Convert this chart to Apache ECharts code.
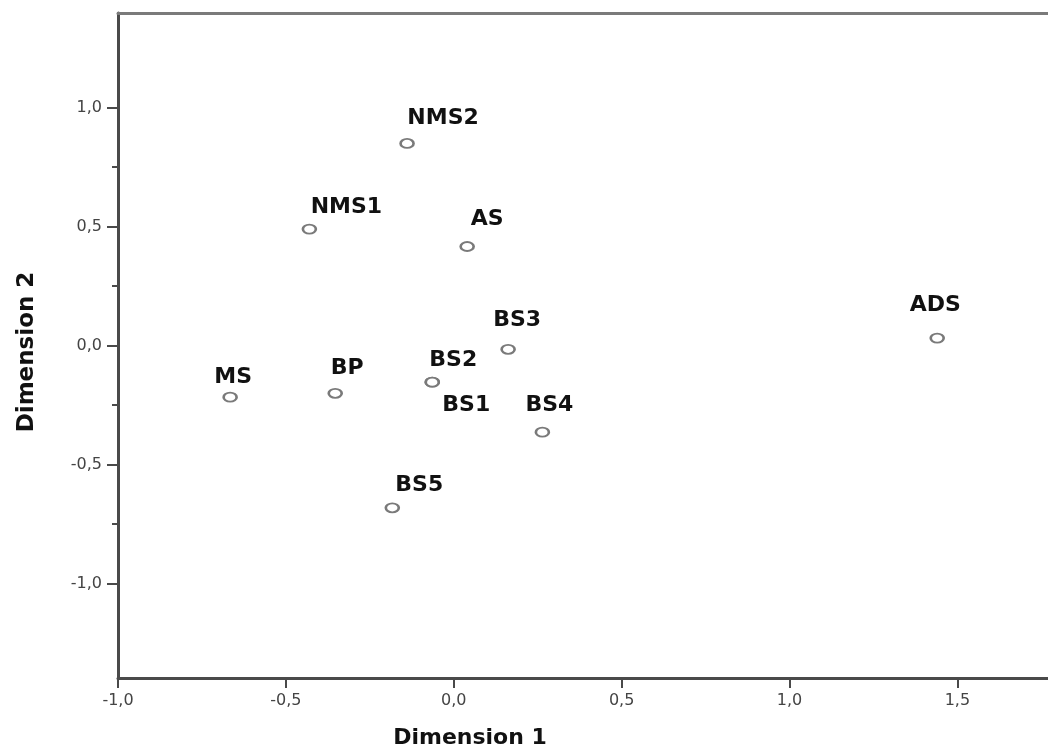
<!DOCTYPE html>
<html>
<head>
<meta charset="utf-8">
<script src="https://cdn.jsdelivr.net/npm/echarts@6/dist/echarts.min.js"></script>
<style>
html,body{margin:0;padding:0;background:#fff;}
#chart{width:1048px;height:749px;}
</style>
</head>
<body>
<div id="chart"></div>
<script>
// ---- data ----
const names = ['NMS2', 'NMS1', 'AS', 'ADS', 'BS3', 'MS', 'BP', 'BS2', 'BS1', 'BS4', 'BS5'];
const dim1  = [-0.139, -0.430, 0.040, 1.440, 0.162, -0.666, -0.353, -0.064, -0.064, 0.264, -0.183];
const dim2  = [0.849, 0.489, 0.416, 0.031, -0.016, -0.217, -0.201, -0.154, -0.154, -0.364, -0.682];
const xTicks = [-1, -0.5, 0, 0.5, 1, 1.5];
const yTicks = [-1, -0.5, 0, 0.5, 1];
const yMinorTicks = [-0.75, -0.25, 0.25, 0.75];
const xTitle = 'Dimension 1';
const yTitle = 'Dimension 2';

// ---- styling (label placement relative to each marker) ----
const labelOffsets = {
  NMS2: [36, -25], NMS1: [37, -22], AS: [20, -27], ADS: [-2, -33],
  BS3: [9, -29], MS: [3, -20], BP: [12, -25], BS2: [21, -22],
  BS1: [34, 23], BS4: [7, -27], BS5: [27, -23]
};

const fmt = v => v.toFixed(1).replace('.', ',');
const X_MIN = -1, X_MAX = 1.77, Y_MIN = -1.397, Y_MAX = 1.397;
const axisDark = '#4a4a4a';

const chart = echarts.init(document.getElementById('chart'), null, {renderer: 'canvas'});
chart.setOption({
  animation: false,
  backgroundColor: '#ffffff',
  grid: {left: 118, right: 0, top: 13, bottom: 71},
  xAxis: [{
    type: 'value', min: X_MIN, max: X_MAX, position: 'bottom',
    axisLine: {show: true, onZero: false, lineStyle: {color: axisDark, width: 3}},
    axisTick: {show: true, inside: false, length: 10, customValues: xTicks, lineStyle: {color: axisDark, width: 2}},
    axisLabel: {customValues: xTicks, formatter: fmt, margin: 15, fontFamily: 'DejaVu Sans', fontSize: 16, color: '#444'},
    splitLine: {show: false}
  }, {
    type: 'value', min: X_MIN, max: X_MAX, position: 'top',
    axisLine: {show: true, onZero: false, lineStyle: {color: '#7a7a7a', width: 3}},
    axisTick: {show: false}, axisLabel: {show: false}, splitLine: {show: false}
  }],
  yAxis: [{
    type: 'value', min: Y_MIN, max: Y_MAX, position: 'left',
    axisLine: {show: true, onZero: false, lineStyle: {color: axisDark, width: 3}},
    axisTick: {show: true, inside: false, length: 11, customValues: yTicks, lineStyle: {color: axisDark, width: 2}},
    axisLabel: {customValues: yTicks, formatter: fmt, margin: 16, fontFamily: 'DejaVu Sans', fontSize: 16, color: '#444'},
    splitLine: {show: false}
  }, {
    type: 'value', min: Y_MIN, max: Y_MAX, position: 'left',
    axisLine: {show: false, onZero: false},
    axisTick: {show: true, inside: false, length: 6, customValues: yMinorTicks, lineStyle: {color: axisDark, width: 2}},
    axisLabel: {show: false}, splitLine: {show: false}
  }],
  graphic: [{
    type: 'text', x: 470, y: 738,
    style: {text: xTitle, font: 'bold 22px "DejaVu Sans"', fill: '#111', align: 'center', verticalAlign: 'middle'}
  }, {
    type: 'text', x: 27, y: 352, rotation: Math.PI / 2,
    style: {text: yTitle, font: 'bold 23px "DejaVu Sans"', fill: '#111', align: 'center', verticalAlign: 'middle'}
  }],
  series: [{
    type: 'scatter', xAxisIndex: 0, yAxisIndex: 0,
    symbol: 'circle', symbolSize: [13, 9],
    itemStyle: {color: '#ffffff', borderColor: '#7a7a7a', borderWidth: 2.2, opacity: 1},
    label: {
      show: true, position: 'inside', formatter: '{b}',
      fontFamily: 'DejaVu Sans', fontWeight: 'bold', fontSize: 22, color: '#111',
      align: 'center', verticalAlign: 'middle'
    },
    emphasis: {disabled: true},
    data: names.map((n, i) => ({name: n, value: [dim1[i], dim2[i]], label: {offset: labelOffsets[n]}}))
  }]
});
</script>
</body>
</html>
